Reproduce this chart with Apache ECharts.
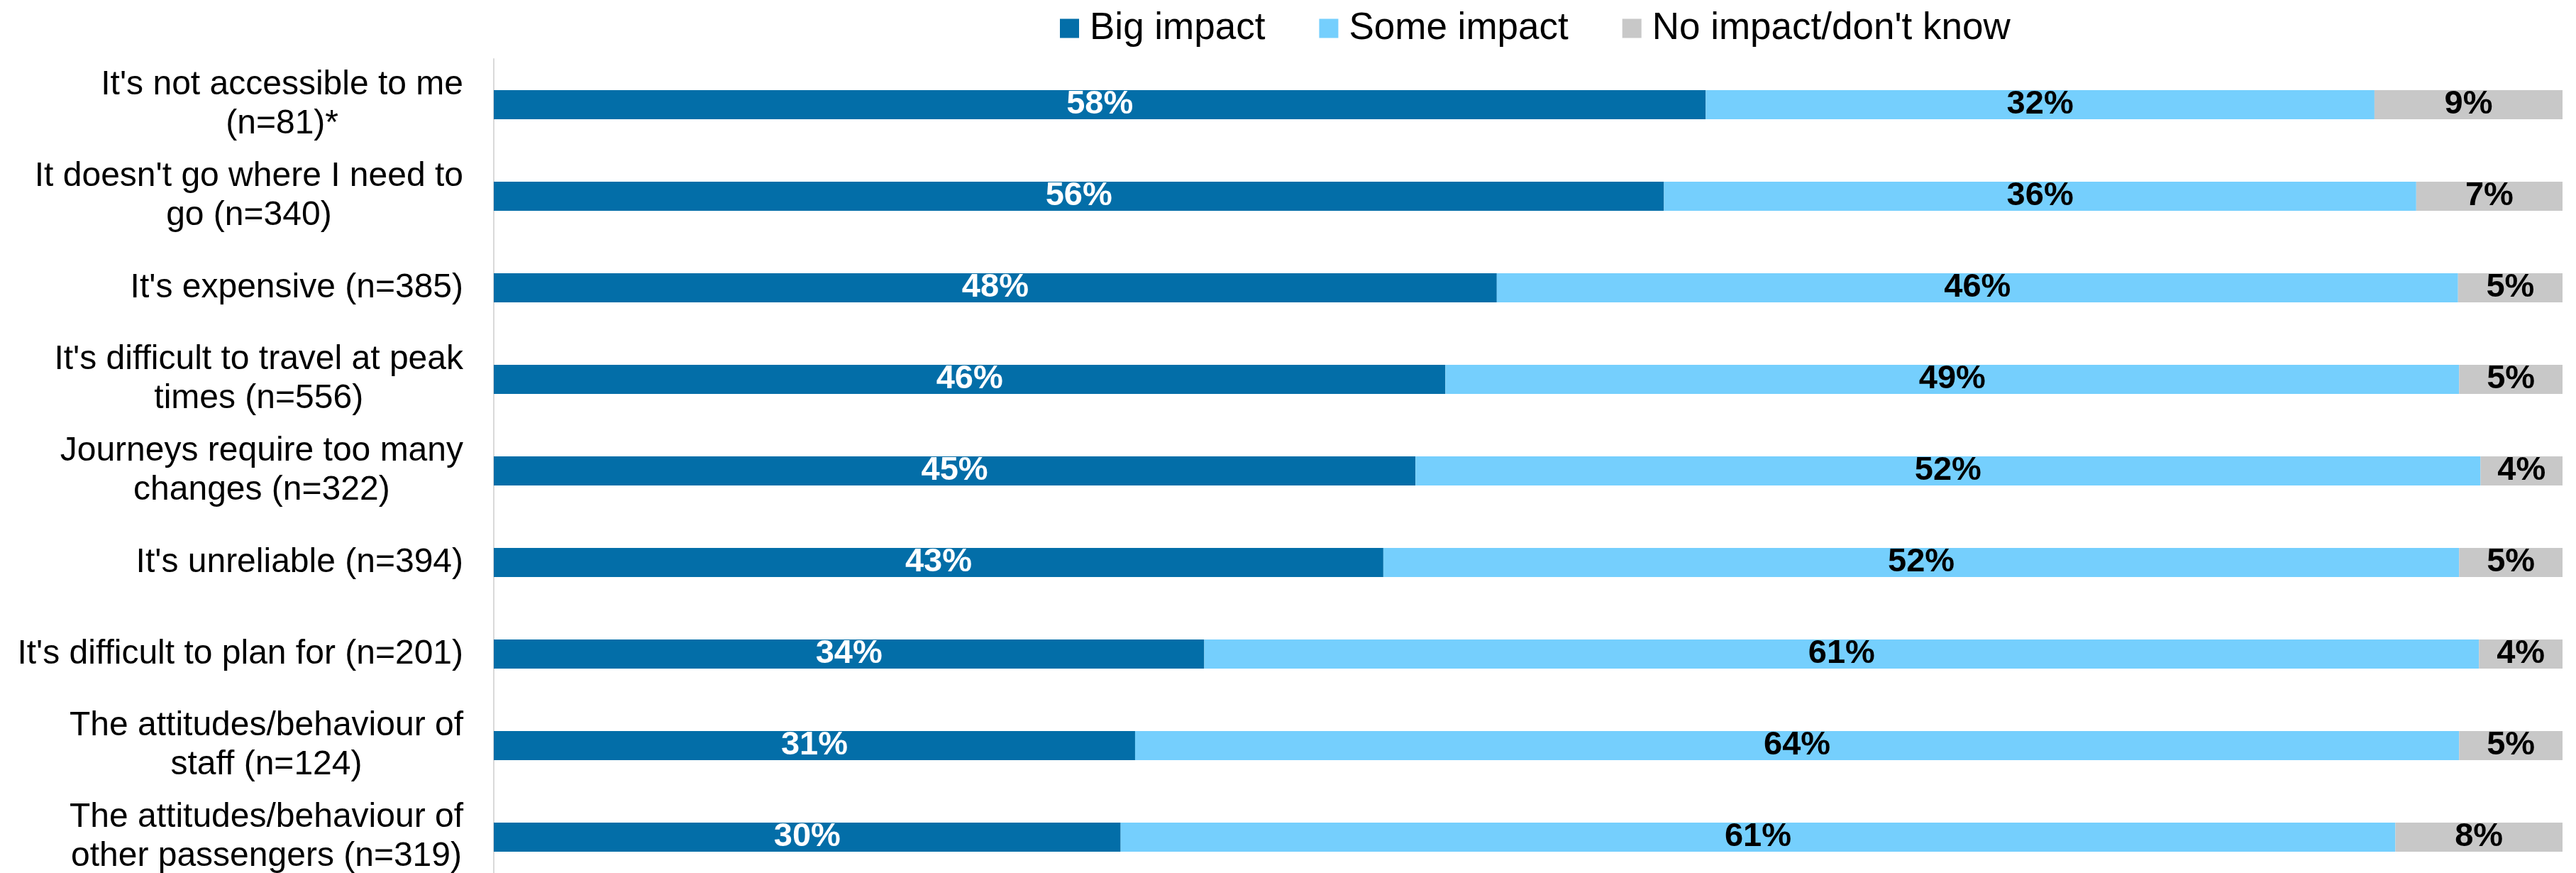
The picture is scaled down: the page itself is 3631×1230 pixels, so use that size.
<!DOCTYPE html>
<html>
<head>
<meta charset="utf-8">
<script src="https://cdn.jsdelivr.net/npm/echarts@6/dist/echarts.min.js"></script>
<style>
  html, body { margin: 0; padding: 0; background: #ffffff; overflow: hidden; }
  /* the last row runs slightly past the bottom edge of the page */
  #chart { width: 3631px; height: 1244px; }
</style>
</head>
<body>
<div id="chart"></div>
<script>
// Reasons, top to bottom
const categories = [
  "It's not accessible to me\n(n=81)*",
  "It doesn't go where I need to\ngo (n=340)",
  "It's expensive (n=385)",
  "It's difficult to travel at peak\ntimes (n=556)",
  "Journeys require too many\nchanges (n=322)",
  "It's unreliable (n=394)",
  "It's difficult to plan for (n=201)",
  "The attitudes/behaviour of\nstaff (n=124)",
  "The attitudes/behaviour of\nother passengers (n=319)"
];

const seriesNames = ["Big impact", "Some impact", "No impact/don't know"];

// Percentages per reason
const bigImpact  = [58, 56, 48, 46, 45, 43, 34, 31, 30];
const someImpact = [32, 36, 46, 49, 52, 52, 61, 64, 61];
const noImpact   = [9, 7, 5, 5, 4, 5, 4, 5, 8];

const seriesValues = [bigImpact, someImpact, noImpact];
const colors = ['#036EA8', '#75CFFD', '#C8C8C8'];
const labelColors = ['#ffffff', '#000000', '#000000'];

const FONT = "'Liberation Sans', Arial, Helvetica, sans-serif";

// Each bar fills the full width: segments are shares of the row total
const rowTotals = categories.map((_, i) =>
  seriesValues.reduce((s, arr) => s + arr[i], 0));

const series = seriesValues.map((arr, k) => ({
  name: seriesNames[k],
  type: 'bar',
  stack: 'total',
  barWidth: 41,
  itemStyle: { color: colors[k] },
  label: {
    show: true,
    position: 'inside',
    color: labelColors[k],
    fontFamily: FONT,
    fontWeight: 'bold',
    fontSize: 47,
    formatter: p => p.data.raw + '%'
  },
  emphasis: { disabled: true },
  data: arr.map((v, i) => ({ value: v / rowTotals[i] * 100, raw: v }))
}));

const chart = echarts.init(document.getElementById('chart'), null, { renderer: 'canvas' });
chart.setOption({
  animation: false,
  backgroundColor: '#ffffff',
  legend: {
    data: seriesNames,
    left: 1494,
    top: 13,
    padding: 0,
    icon: 'rect',
    itemWidth: 27,
    itemHeight: 27,
    itemGap: 76,
    selectedMode: false,
    textStyle: {
      fontFamily: FONT,
      fontSize: 53,
      lineHeight: 54,
      color: '#000000',
      padding: [0, 0, 0, 10]
    }
  },
  grid: {
    left: 696,
    right: 19,
    top: 83,
    bottom: 0,
    containLabel: false
  },
  xAxis: {
    type: 'value',
    min: 0,
    max: 100,
    show: false
  },
  yAxis: {
    type: 'category',
    inverse: true,
    data: categories,
    axisTick: { show: false },
    axisLine: { show: true, lineStyle: { color: '#D9D9D9', width: 2 } },
    splitLine: { show: false },
    axisLabel: {
      margin: 43,
      formatter: v => '{c|' + v + '}',
      rich: {
        c: {
          align: 'center',
          fontFamily: FONT,
          fontSize: 48,
          lineHeight: 55,
          color: '#000000'
        }
      }
    }
  },
  series: series
});
</script>
</body>
</html>
